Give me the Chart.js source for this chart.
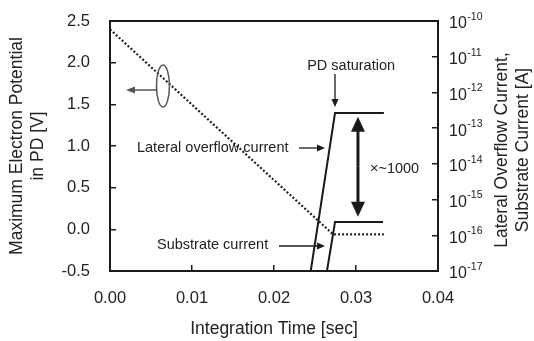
<!DOCTYPE html>
<html>
<head>
<meta charset="utf-8">
<script src="https://cdn.jsdelivr.net/npm/chart.js@4.4.0/dist/chart.umd.min.js"></script>
<style>
    body { margin: 0; background: #fff; }
    #wrap { width: 534px; height: 341px; position: relative; }
</style>
</head>
<body>
<div id="wrap"><canvas id="chart"></canvas></div>
<script>
// max electron potential in PD [V] vs integration time [sec]
const potentialTime = [0, 0.0272, 0.0334]
const potentialValue = [2.4, -0.06, -0.06]
// currents [A]
const lateralTime = [0.02448, 0.02744, 0.0334]
const lateralCurrent = [1e-17, 2.65e-13, 2.65e-13]
const substrateTime = [0.02646, 0.02744, 0.0333]
const substrateCurrent = [1e-17, 2.35e-16, 2.35e-16]

const leftTicks = [-0.5, 0, 0.5, 1, 1.5, 2, 2.5]
const bottomTicks = [0, 0.01, 0.02, 0.03, 0.04]
const rightExponents = [-17, -16, -15, -14, -13, -12, -11, -10]

// annotations, in (time, potential) coordinates
const notes = [
    { text : "PD saturation", x : 0.0294, y : 1.96, align : "center" },
    { text : "Lateral overflow current", x : 0.00329, y : 0.976, align : "left" },
    { text : "Substrate current", x : 0.00573, y : -0.19, align : "left" },
    { text : "×~1000", x : 0.0317, y : 0.724, align : "left" },
]
const arrows = [
    { from : [0.02744, 1.864], to : [0.02744, 1.468] },
    { from : [0.02305, 0.976], to : [0.02622, 0.976] },
    { from : [0.02061, -0.20], to : [0.02622, -0.20] },
]
const bigArrow = { x : 0.03024, top : 1.35, bottom : 0.15 }
const ellipse = { x : 0.00646, y : 1.72, rx : 0.00079, ry : 0.252, tipX : 0.00195, tipY : 1.672 }

const FONT = "'Liberation Sans', Arial, sans-serif"
const INK = "#1a1a1a"

const toPoints = (xs, ys) => xs.map((x, i) => ({ x : x, y : ys[i] }))

function drawArrow(ctx, x1, y1, x2, y2, len, half, width) {
    const a = Math.atan2(y2 - y1, x2 - x1)
    const c = Math.cos(a), s = Math.sin(a)
    ctx.lineWidth = width
    ctx.beginPath()
    ctx.moveTo(x1, y1)
    ctx.lineTo(x2 - c * len * 0.7, y2 - s * len * 0.7)
    ctx.stroke()
    ctx.beginPath()
    ctx.moveTo(x2, y2)
    ctx.lineTo(x2 - c * len + s * half, y2 - s * len - c * half)
    ctx.lineTo(x2 - c * len - s * half, y2 - s * len + c * half)
    ctx.closePath()
    ctx.fill()
}

const decorations = {
    id : "decorations",
    afterDraw(chart) {
        const ctx = chart.ctx
        const a = chart.chartArea
        const sx = chart.scales.x, sy = chart.scales.y, sr = chart.scales.y2
        ctx.save()

        // frame
        ctx.strokeStyle = INK
        ctx.lineWidth = 2
        ctx.strokeRect(a.left, a.top, a.right - a.left, a.bottom - a.top)

        // right tick labels with superscripts
        ctx.fillStyle = "#222"
        ctx.textAlign = "left"
        ctx.textBaseline = "middle"
        rightExponents.forEach(e => {
            const y = sr.getPixelForValue(Math.pow(10, e))
            ctx.font = "16px " + FONT
            ctx.fillText("10", a.right + 11, y + 3)
            const w = ctx.measureText("10").width
            ctx.font = "10.5px " + FONT
            ctx.fillText("-" + Math.abs(e), a.right + 11 + w + 0.5, y - 4)
        })

        // right title, reading bottom to top
        ctx.font = "17.5px " + FONT
        ctx.textAlign = "center"
        ctx.save()
        ctx.translate(502, 150)
        ctx.rotate(-Math.PI / 2)
        ctx.fillText("Lateral Overflow Current,", 0, 0)
        ctx.fillText("Substrate Current [A]", 0, 21)
        ctx.restore()

        // text notes
        ctx.font = "14.5px " + FONT
        ctx.fillStyle = "#222"
        notes.forEach(n => {
            ctx.textAlign = n.align
            ctx.fillText(n.text, sx.getPixelForValue(n.x), sy.getPixelForValue(n.y))
        })

        // small arrows
        ctx.strokeStyle = INK
        ctx.fillStyle = INK
        arrows.forEach(r => {
            drawArrow(ctx, sx.getPixelForValue(r.from[0]), sy.getPixelForValue(r.from[1]),
                sx.getPixelForValue(r.to[0]), sy.getPixelForValue(r.to[1]), 8, 3.5, 1.3)
        })

        // x ~1000 double arrow
        const bx = sx.getPixelForValue(bigArrow.x)
        const bt = sy.getPixelForValue(bigArrow.top)
        const bb = sy.getPixelForValue(bigArrow.bottom)
        const mid = (bt + bb) / 2
        drawArrow(ctx, bx, mid, bx, bt, 15, 7, 3)
        drawArrow(ctx, bx, mid, bx, bb, 15, 7, 3)

        // ellipse marking the left-axis curve
        const ex = sx.getPixelForValue(ellipse.x)
        const ey = sy.getPixelForValue(ellipse.y)
        const erx = Math.abs(sx.getPixelForValue(ellipse.x + ellipse.rx) - ex)
        const ery = Math.abs(sy.getPixelForValue(ellipse.y + ellipse.ry) - ey)
        ctx.strokeStyle = "#555"
        ctx.fillStyle = "#555"
        ctx.lineWidth = 1.5
        ctx.beginPath()
        ctx.ellipse(ex, ey, erx, ery, 0, 0, Math.PI * 2)
        ctx.stroke()
        const ty = sy.getPixelForValue(ellipse.tipY)
        drawArrow(ctx, ex - erx, ty, sx.getPixelForValue(ellipse.tipX), ty, 9, 3.5, 1.5)

        ctx.restore()
    },
}

const tickGrid = { drawOnChartArea : false, drawTicks : true, tickLength : -6, color : INK, lineWidth : 1.5 }

// fixed box sizes so the plot area sits where the original one does
const fixWidth = w => s => { s.width = w; s.paddingTop = 0; s.paddingBottom = 0 }

new Chart(document.getElementById("chart").getContext("2d"), {
    type : "scatter",
    data : {
        datasets : [{
            data : toPoints(potentialTime, potentialValue),
            yAxisID : "y",
            showLine : true,
            borderColor : "#222",
            borderWidth : 2.2,
            borderDash : [2, 2],
            pointRadius : 0,
        }, {
            data : toPoints(lateralTime, lateralCurrent),
            yAxisID : "y2",
            showLine : true,
            borderColor : INK,
            borderWidth : 2,
            pointRadius : 0,
        }, {
            data : toPoints(substrateTime, substrateCurrent),
            yAxisID : "y2",
            showLine : true,
            borderColor : INK,
            borderWidth : 2,
            pointRadius : 0,
        }],
    }, options : {
        responsive : true,
        maintainAspectRatio : false,
        animation : false,
        layout : { padding : { top : 21, left : 0, right : 0, bottom : 0 } },
        plugins : {
            legend : { display : false },
            tooltip : { enabled : false },
        },
        scales : {
            x : {
                type : "linear",
                min : 0,
                max : 0.04,
                afterBuildTicks : s => { s.ticks = bottomTicks.map(v => ({ value : v })) },
                afterFit : s => { s.height = 70; s.paddingLeft = 0; s.paddingRight = 0 },
                ticks : {
                    callback : v => v.toFixed(2),
                    font : { family : FONT, size : 16.5 },
                    color : "#222",
                    padding : 24,
                    maxRotation : 0,
                },
                grid : tickGrid,
                border : { display : false },
                title : {
                    display : true,
                    text : "Integration Time [sec]",
                    font : { family : FONT, size : 17.5 },
                    color : "#222",
                    padding : { top : 0, bottom : 1 },
                },
            },
            y : {
                type : "linear",
                position : "left",
                min : -0.5,
                max : 2.5,
                afterBuildTicks : s => { s.ticks = leftTicks.map(v => ({ value : v })) },
                afterFit : fixWidth(110),
                ticks : {
                    callback : v => v.toFixed(1),
                    font : { family : FONT, size : 16.5 },
                    color : "#222",
                    padding : 26,
                },
                grid : tickGrid,
                border : { display : false },
                title : {
                    display : true,
                    text : ["Maximum Electron Potential", "in PD [V]"],
                    font : { family : FONT, size : 17.5, lineHeight : 1.2 },
                    color : "#222",
                    padding : { top : 6.5, bottom : 0 },
                },
            },
            y2 : {
                type : "logarithmic",
                position : "right",
                min : 1e-17,
                max : 1e-10,
                afterBuildTicks : s => { s.ticks = rightExponents.map(e => ({ value : Math.pow(10, e) })) },
                afterFit : fixWidth(96),
                ticks : { display : false },
                grid : tickGrid,
                border : { display : false },
            },
        },
    },
    plugins : [decorations],
})
</script>
</body>
</html>
